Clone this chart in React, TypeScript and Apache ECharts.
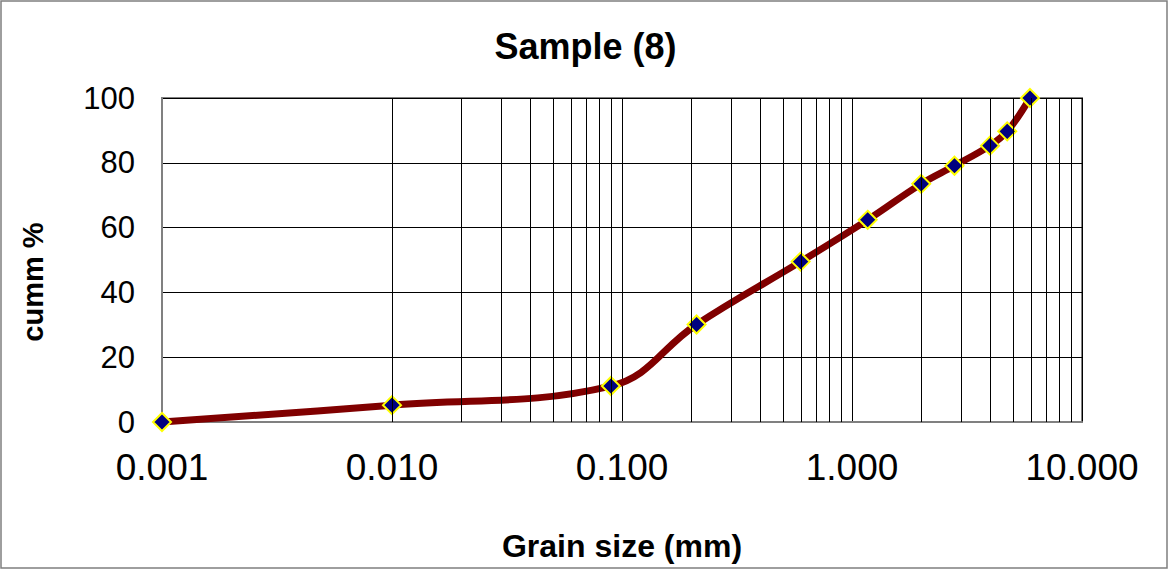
import React, { useEffect, useRef } from "react";
import * as echarts from "echarts";

const grainSizes = [0.001, 0.01, 0.0895, 0.211, 0.598, 1.17, 2.0, 2.79, 3.98, 4.73, 5.94];
const cummPercent = [0, 5.2, 11.1, 30.1, 49.5, 62.4, 73.5, 79.1, 85.3, 89.7, 100];

const minorGridX = [
  0.002, 0.003, 0.004, 0.005, 0.006, 0.007, 0.008, 0.009,
  0.02, 0.03, 0.04, 0.05, 0.06, 0.07, 0.08, 0.09,
  0.2, 0.3, 0.4, 0.5, 0.6, 0.7, 0.8, 0.9,
  2, 3, 4, 5, 6, 7, 8, 9,
];

const titleText = "Sample (8)";
const xName = "Grain size (mm)";
const yName = "cumm %";

const FONT = "'Liberation Sans', Arial, sans-serif";

export default function App() {
  const ref = useRef<HTMLDivElement>(null);
  useEffect(() => {
    if (!ref.current) return;
    const chart = echarts.init(ref.current, null, { renderer: "svg" });
    chart.setOption({
      animation: false,
      backgroundColor: "#ffffff",
      title: {
        text: titleText,
        left: "center",
        top: 23,
        textStyle: { fontFamily: FONT, fontSize: 36, fontWeight: "bold", color: "#000" },
      },
      grid: {
        left: 162,
        top: 98,
        right: 89,
        bottom: 149,
        show: true,
        borderColor: "#808080",
        borderWidth: 2,
        backgroundColor: "transparent",
      },
      xAxis: {
        type: "log",
        logBase: 10,
        min: 0.001,
        max: 10,
        name: xName,
        nameLocation: "middle",
        nameGap: 108,
        nameTextStyle: { fontFamily: FONT, fontSize: 32, fontWeight: "bold", color: "#000" },
        axisLine: { show: true, lineStyle: { color: "#808080", width: 2 } },
        axisTick: { show: false },
        axisLabel: {
          fontFamily: FONT,
          fontSize: 37,
          color: "#000",
          margin: 27,
          formatter: (v: number) => v.toFixed(3),
        },
        splitLine: { show: true, lineStyle: { color: "#000", width: 1 } },
      },
      yAxis: {
        type: "value",
        min: 0,
        max: 100,
        interval: 20,
        axisLine: { show: true, lineStyle: { color: "#808080", width: 2 } },
        axisTick: { show: false },
        axisLabel: { fontFamily: FONT, fontSize: 31, color: "#000", margin: 27 },
        splitLine: { show: true, lineStyle: { color: "#000", width: 1 } },
      },
      graphic: [
        {
          type: "rect",
          shape: { x: 1, y: 1, width: 1166, height: 567 },
          style: { fill: "none", stroke: "#7f7f7f", lineWidth: 1.5 },
          silent: true,
          z: -1,
        },
        {
          type: "text",
          x: 33,
          y: 282,
          rotation: Math.PI / 2,
          style: {
            text: yName,
            fontFamily: FONT,
            fontSize: 29,
            fontWeight: "bold",
            fill: "#000",
            align: "center",
            verticalAlign: "middle",
          },
        },
      ],
      series: [
        {
          type: "line",
          data: [],
          z: 1,
          silent: true,
          markLine: {
            silent: true,
            symbol: "none",
            label: { show: false },
            lineStyle: { color: "#000", width: 1, type: "solid" },
            data: minorGridX.map((v) => ({ xAxis: v })),
          },
        },
        {
          type: "line",
          data: grainSizes.map((g, i) => [g, cummPercent[i]]),
          smooth: 0.4,
          z: 3,
          lineStyle: { color: "#800000", width: 7 },
          symbol: "diamond",
          symbolSize: 18,
          itemStyle: { color: "#000080", borderColor: "#ffff00", borderWidth: 2 },
        },
      ],
    });
    return () => chart.dispose();
  }, []);
  return (
    <div
      ref={ref}
      style={{ position: "fixed", left: 0, top: 0, width: 1171, height: 571 }}
    />
  );
}
